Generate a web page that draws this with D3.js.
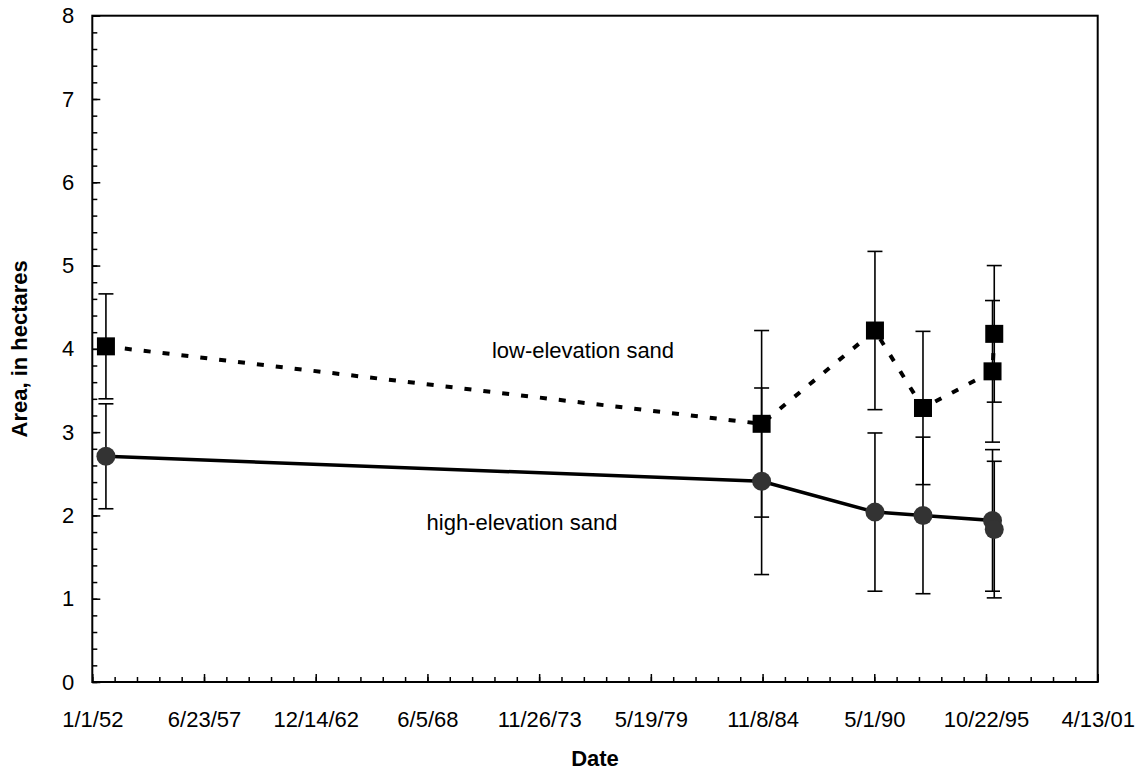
<!DOCTYPE html>
<html>
<head>
<meta charset="utf-8">
<script src="https://cdn.jsdelivr.net/npm/d3@7"></script>
<style>
  body { margin: 0; background: #fff; }
  text { font-family: "Liberation Sans", Arial, sans-serif; }
</style>
</head>
<body>
<script>
// survey dates (two surveys early in 1996)
var dates = ["1952-09-01", "1984-10-22", "1990-05-13", "1992-09-19", "1996-02-16", "1996-03-18"];
var lowSand = [4.03, 3.10, 4.22, 3.29, 3.73, 4.18];
var lowErr = [0.63, 1.12, 0.95, 0.92, 0.85, 0.82];
var highSand = [2.71, 2.41, 2.04, 2.00, 1.94, 1.83];
var highErr = [0.63, 1.12, 0.95, 0.94, 0.85, 0.82];
var xTicks = ["1952-01-01", "1957-06-23", "1962-12-14", "1968-06-05", "1973-11-26",
              "1979-05-19", "1984-11-08", "1990-05-01", "1995-10-22", "2001-04-13"];
var yTicks = [0, 1, 2, 3, 4, 5, 6, 7, 8];

var W = 1144, H = 773;
var m = {left: 92.3, top: 15.7, right: 1144 - 1097.7, bottom: 773 - 682};
var w = W - m.left - m.right;
var h = H - m.top - m.bottom;

var parse = d3.utcParse("%Y-%m-%d");
var fmt = d3.utcFormat("%-m/%-d/%y");

var svg = d3.select("body")
    .append("svg")
    .attr("width", W)
    .attr("height", H);

var g = svg.append("g").attr("transform", "translate(" + m.left + "," + m.top + ")");

var xTickDates = xTicks.map(parse);
var x = d3.scaleUtc()
    .domain([xTickDates[0], xTickDates[xTickDates.length - 1]])
    .range([0, w]);
var y = d3.scaleLinear().domain([0, 8]).range([h, 0]);

// minor ticks: 400 days on x, 0.2 on y
var xMinor = [];
for (var d = xTickDates[0]; d <= xTickDates[xTickDates.length - 1]; d = d3.utcDay.offset(d, 400)) xMinor.push(d);
var yMinor = d3.range(0, 8.001, 0.2);

g.append("g")
    .attr("transform", "translate(0," + h + ")")
    .call(d3.axisBottom(x).tickValues(xMinor).tickSize(-5).tickFormat(""))
    .call(function(a) { a.select(".domain").remove(); });
g.append("g")
    .call(d3.axisLeft(y).tickValues(yMinor).tickSize(-5).tickFormat(""))
    .call(function(a) { a.select(".domain").remove(); });

var xAxis = g.append("g")
    .attr("transform", "translate(0," + h + ")")
    .call(d3.axisBottom(x).tickValues(xTickDates).tickSizeInner(-8).tickSizeOuter(0).tickPadding(29).tickFormat(fmt));
var yAxis = g.append("g")
    .call(d3.axisLeft(y).tickValues(yTicks).tickSizeInner(-8).tickSizeOuter(0).tickPadding(18).tickFormat(d3.format("d")));

[xAxis, yAxis].forEach(function(a) {
  a.select(".domain").remove();
  a.selectAll("text").attr("font-size", 22).attr("fill", "#000")
      .style("font-family", "'Liberation Sans', Arial, sans-serif");
});
g.selectAll(".tick line").attr("stroke", "#000").attr("stroke-width", 1.5);

// plot border
g.append("rect")
    .attr("width", w).attr("height", h)
    .attr("fill", "none").attr("stroke", "#000").attr("stroke-width", 2);

function rows(vals, errs) {
  return dates.map(function(s, i) { return {date: parse(s), v: vals[i], e: errs[i]}; });
}
var low = rows(lowSand, lowErr);
var high = rows(highSand, highErr);

function errorBars(data) {
  var eb = g.append("g").attr("stroke", "#000").attr("stroke-width", 1.6);
  eb.selectAll("line.v").data(data).enter().append("line")
      .attr("x1", function(d) { return x(d.date); })
      .attr("x2", function(d) { return x(d.date); })
      .attr("y1", function(d) { return y(d.v + d.e); })
      .attr("y2", function(d) { return y(d.v - d.e); });
  [1, -1].forEach(function(s) {
    eb.selectAll("line.c" + (s > 0 ? "u" : "d")).data(data).enter().append("line")
        .attr("x1", function(d) { return x(d.date) - 7.5; })
        .attr("x2", function(d) { return x(d.date) + 7.5; })
        .attr("y1", function(d) { return y(d.v + s * d.e); })
        .attr("y2", function(d) { return y(d.v + s * d.e); });
  });
}
errorBars(low);
errorBars(high);

var line = d3.line()
    .x(function(d) { return x(d.date); })
    .y(function(d) { return y(d.v); });

g.append("path").datum(low)
    .attr("d", line)
    .attr("fill", "none").attr("stroke", "#000")
    .attr("stroke-width", 4).attr("stroke-dasharray", "7,12");
g.append("path").datum(high)
    .attr("d", line)
    .attr("fill", "none").attr("stroke", "#000").attr("stroke-width", 3.5);

g.selectAll("rect.sq").data(low).enter().append("rect")
    .attr("x", function(d) { return x(d.date) - 9; })
    .attr("y", function(d) { return y(d.v) - 9; })
    .attr("width", 18).attr("height", 18)
    .attr("fill", "#000");
g.selectAll("circle.pt").data(high).enter().append("circle")
    .attr("cx", function(d) { return x(d.date); })
    .attr("cy", function(d) { return y(d.v); })
    .attr("r", 9.5)
    .attr("fill", "#333");

// series labels
svg.append("text").attr("x", 583).attr("y", 358).attr("text-anchor", "middle")
    .attr("font-size", 22).text("low-elevation sand");
svg.append("text").attr("x", 522).attr("y", 530).attr("text-anchor", "middle")
    .attr("font-size", 22).text("high-elevation sand");

// axis titles
svg.append("text").attr("x", m.left + w / 2).attr("y", 766).attr("text-anchor", "middle")
    .attr("font-size", 22).attr("font-weight", "bold").text("Date");
svg.append("text").attr("transform", "translate(27," + (m.top + h / 2) + ") rotate(-90)")
    .attr("text-anchor", "middle")
    .attr("font-size", 22).attr("font-weight", "bold").text("Area, in hectares");
</script>
</body>
</html>
